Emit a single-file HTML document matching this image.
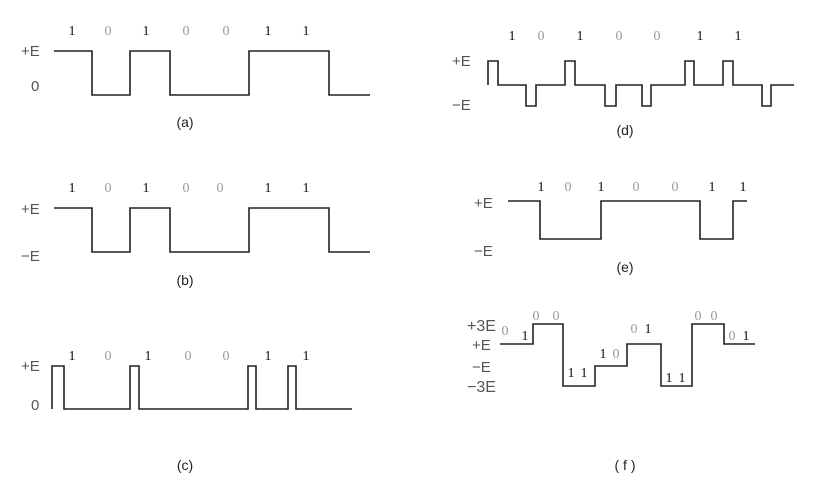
<!DOCTYPE html>
<html><head><meta charset="utf-8"><style>
html,body{margin:0;padding:0;background:#fff;}
svg{display:block}
.b{font-family:"Liberation Serif",serif;font-size:14px;fill:#111;text-anchor:middle}
.z{font-family:"Liberation Serif",serif;font-size:14px;fill:#999;text-anchor:middle}
.ax{font-family:"Liberation Sans",sans-serif;font-size:15px;fill:#555;}
.cap{font-family:"Liberation Sans",sans-serif;font-size:14px;fill:#222;text-anchor:middle}
path{fill:none;stroke:#222;stroke-width:1.6}
</style></head><body>
<svg width="837" height="492" viewBox="0 0 837 492">
<!-- (a) -->
<text class="b" x="72" y="35">1</text><text class="z" x="108" y="35">0</text><text class="b" x="146" y="35">1</text><text class="z" x="186" y="35">0</text><text class="z" x="226" y="35">0</text><text class="b" x="268" y="35">1</text><text class="b" x="306" y="35">1</text>
<text class="ax" x="21" y="56">+E</text><text class="ax" x="31" y="91">0</text>
<path d="M54 51H92V95H130V51H170V95H249V51H329V95H370"/>
<text class="cap" x="185" y="127">(a)</text>
<!-- (b) -->
<text class="b" x="72" y="192">1</text><text class="z" x="108" y="192">0</text><text class="b" x="146" y="192">1</text><text class="z" x="186" y="192">0</text><text class="z" x="220" y="192">0</text><text class="b" x="268" y="192">1</text><text class="b" x="306" y="192">1</text>
<text class="ax" x="21" y="214">+E</text><text class="ax" x="21" y="261">−E</text>
<path d="M54 208H92V252H130V208H170V252H249V208H329V252H370"/>
<text class="cap" x="185" y="285">(b)</text>
<!-- (c) -->
<text class="b" x="72" y="360">1</text><text class="z" x="108" y="360">0</text><text class="b" x="148" y="360">1</text><text class="z" x="188" y="360">0</text><text class="z" x="226" y="360">0</text><text class="b" x="268" y="360">1</text><text class="b" x="306" y="360">1</text>
<text class="ax" x="21" y="371">+E</text><text class="ax" x="31" y="410">0</text>
<path d="M52 409V366H64V409H130V366H139V409H248V366H256V409H288V366H296V409H352"/>
<text class="cap" x="185" y="470">(c)</text>
<!-- (d) -->
<text class="b" x="512" y="40">1</text><text class="z" x="541" y="40">0</text><text class="b" x="580" y="40">1</text><text class="z" x="619" y="40">0</text><text class="z" x="657" y="40">0</text><text class="b" x="700" y="40">1</text><text class="b" x="738" y="40">1</text>
<text class="ax" x="452" y="66">+E</text><text class="ax" x="452" y="110">−E</text>
<path d="M488 85V61H498V85H526V106H536V85H565V61H575V85H605V106H616V85H642V106H651V85H685V61H694V85H723V61H733V85H762V106H771V85H794"/>
<text class="cap" x="625" y="135">(d)</text>
<!-- (e) -->
<text class="b" x="541" y="191">1</text><text class="z" x="568" y="191">0</text><text class="b" x="601" y="191">1</text><text class="z" x="636" y="191">0</text><text class="z" x="675" y="191">0</text><text class="b" x="712" y="191">1</text><text class="b" x="743" y="191">1</text>
<text class="ax" x="474" y="208">+E</text><text class="ax" x="474" y="256">−E</text>
<path d="M508 201H540V239H601V201H700V239H733V201H747"/>
<text class="cap" x="625" y="272">(e)</text>
<!-- (f) -->
<text class="ax" x="467" y="331" style="font-size:16px">+3E</text><text class="ax" x="472" y="350">+E</text><text class="ax" x="472" y="372">−E</text><text class="ax" x="467" y="392" style="font-size:16px">−3E</text>
<text class="z" x="505" y="335">0</text><text class="b" x="525" y="340">1</text>
<text class="z" x="536" y="320">0</text><text class="z" x="556" y="320">0</text>
<text class="b" x="571" y="377">1</text><text class="b" x="584" y="377">1</text>
<text class="b" x="603" y="358">1</text><text class="z" x="616" y="358">0</text>
<text class="z" x="634" y="333">0</text><text class="b" x="648" y="333">1</text>
<text class="b" x="669" y="382">1</text><text class="b" x="682" y="382">1</text>
<text class="z" x="698" y="320">0</text><text class="z" x="714" y="320">0</text>
<text class="z" x="732" y="340">0</text><text class="b" x="746" y="340">1</text>
<path d="M500 344H533V324H563V386H595V366H627V344H661V386H692V324H724V344H755"/>
<text class="cap" x="625" y="470">( f )</text>
</svg>
</body></html>
